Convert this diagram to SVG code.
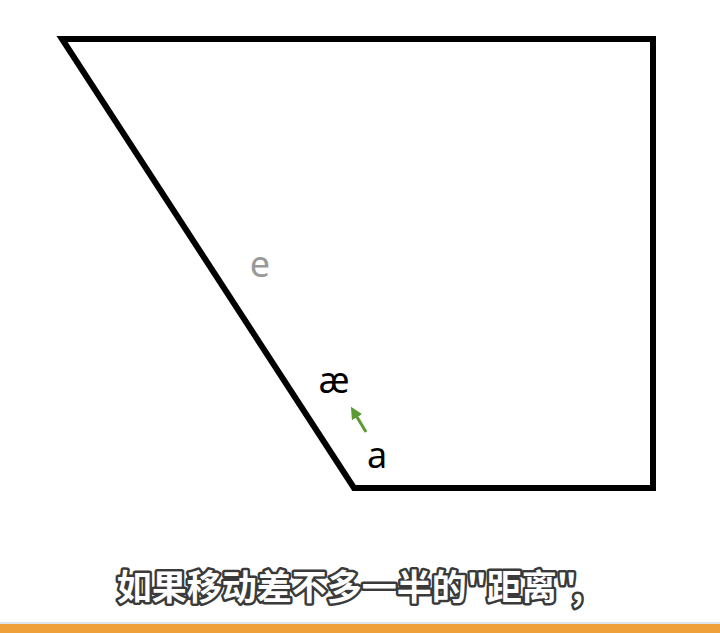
<svg xmlns="http://www.w3.org/2000/svg" width="720" height="633" viewBox="0 0 720 633">
<defs>
<style>
.shape{fill:none;stroke:#000;stroke-width:6;stroke-linejoin:miter}
.lbl{font-family:"Noto Sans","DejaVu Sans",sans-serif;font-size:36px;text-anchor:middle}
.sub{font-family:"Noto Sans CJK SC",sans-serif;font-size:35px;font-weight:bold;fill:#fff;stroke:#3a3a3a;stroke-width:5;paint-order:stroke;stroke-linejoin:round;text-anchor:middle}
</style>
<marker id="ah" viewBox="0 0 10 10" refX="5" refY="5" markerWidth="4" markerHeight="4" orient="auto"><path d="M0,0L10,5L0,10z" fill="#5c9a35"/></marker>
</defs>
<rect width="720" height="633" fill="#fff"/>
<g id="shape"><polygon class="shape" points="62,39 653,39 653,488 354,488"/></g>
<g id="labels">
<text class="lbl" x="260" y="277" fill="#999">e</text>
<text class="lbl" x="334" y="393" fill="#000">æ</text>
<text class="lbl" x="377" y="468" fill="#000">a</text>
</g>
<g id="connectors"><line x1="366" y1="432" x2="354" y2="412" stroke="#5c9a35" stroke-width="3" marker-end="url(#ah)"/></g>
<g id="subtitle"><text class="sub" x="350" y="600">如果移动差不多一半的"距离",</text></g>
<rect x="0" y="622" width="720" height="2" fill="#dde3e6"/>
<rect x="0" y="624" width="720" height="9" fill="#f0a038"/>
</svg>
